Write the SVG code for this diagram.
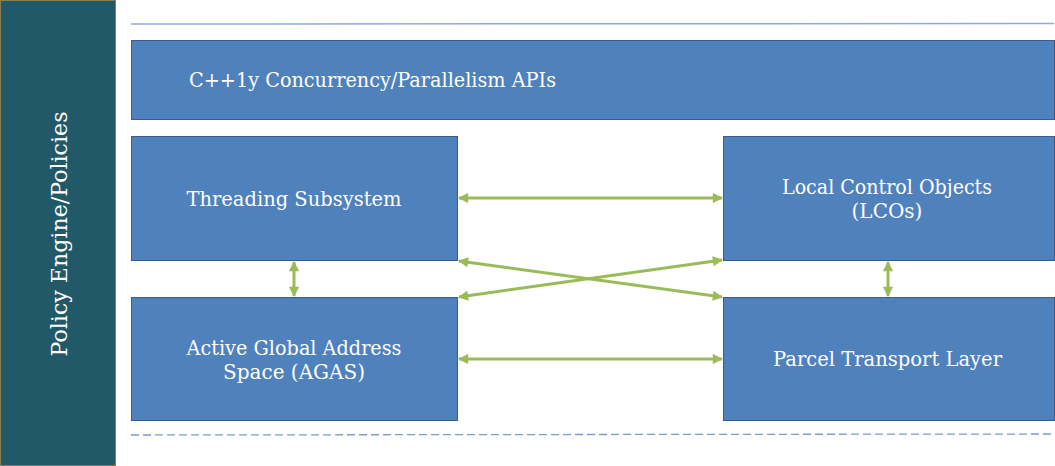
<svg xmlns="http://www.w3.org/2000/svg" width="1055" height="466" viewBox="0 0 1055 466">
<style>
.box{fill:#4f81bd;stroke:#385d8a;stroke-width:1}
.lbl{font-family:"DejaVu Serif","Liberation Serif",serif;font-size:20px;fill:#ffffff}
.mid{text-anchor:middle}
.conn{stroke:#9bbb59;stroke-width:3;fill:none;marker-start:url(#ah);marker-end:url(#ah)}
</style>
<defs>
<marker id="ah" viewBox="0 0 10 10" refX="9" refY="5" markerWidth="4" markerHeight="3.4" orient="auto-start-reverse" markerUnits="strokeWidth">
<path d="M0,0 L10,5 L0,10 z" fill="#9bbb59"/>
</marker>
</defs>
<rect width="1055" height="466" fill="#ffffff"/>
<g id="policy">
<rect x="0.5" y="0.5" width="115" height="465" fill="#215968" stroke="#8b7d4e" stroke-width="1"/>
<text class="lbl mid" style="font-size:22px" transform="translate(67,234) rotate(-90)" textLength="245" lengthAdjust="spacingAndGlyphs">Policy Engine/Policies</text>
</g>
<line x1="131" y1="24" x2="1054" y2="23.5" stroke="#8aacd9" stroke-width="1.5"/>
<line x1="131" y1="435" x2="1054" y2="434" stroke="#7a9dcc" stroke-width="1.3" stroke-dasharray="8 4"/>
<g id="apis">
<rect class="box" x="131.5" y="40.5" width="923" height="79"/>
<text class="lbl" x="189" y="87" textLength="367" lengthAdjust="spacingAndGlyphs">C++1y Concurrency/Parallelism APIs</text>
</g>
<g id="threading">
<rect class="box" x="131.5" y="136.5" width="326" height="124"/>
<text class="lbl mid" x="294" y="206" textLength="215" lengthAdjust="spacingAndGlyphs">Threading Subsystem</text>
</g>
<g id="lco">
<rect class="box" x="723.5" y="136.5" width="331" height="124"/>
<text class="lbl mid" x="887" y="194" textLength="210" lengthAdjust="spacingAndGlyphs">Local Control Objects</text>
<text class="lbl mid" x="887" y="218">(LCOs)</text>
</g>
<g id="agas">
<rect class="box" x="131.5" y="297.5" width="326" height="123"/>
<text class="lbl mid" x="294" y="355" textLength="215" lengthAdjust="spacingAndGlyphs">Active Global Address</text>
<text class="lbl mid" x="294" y="379">Space (AGAS)</text>
</g>
<g id="parcel">
<rect class="box" x="723.5" y="297.5" width="331" height="123"/>
<text class="lbl mid" x="887.5" y="366" textLength="229" lengthAdjust="spacingAndGlyphs">Parcel Transport Layer</text>
</g>
<g id="connectors">
<line class="conn" x1="459" y1="198" x2="722" y2="198"/>
<line class="conn" x1="459" y1="359" x2="722" y2="359"/>
<line class="conn" x1="294" y1="262" x2="294" y2="296"/>
<line class="conn" x1="888" y1="262" x2="888" y2="296"/>
<line class="conn" x1="459" y1="261" x2="722" y2="297"/>
<line class="conn" x1="459" y1="297" x2="722" y2="260"/>
</g>
</svg>
